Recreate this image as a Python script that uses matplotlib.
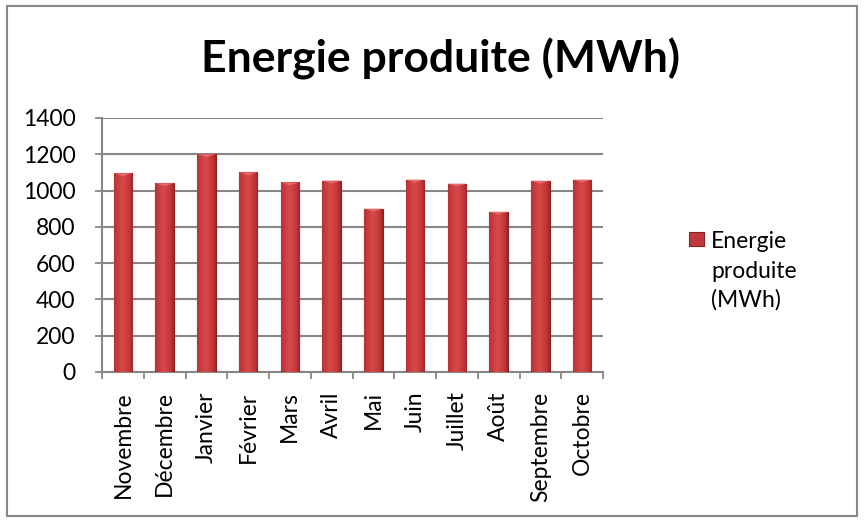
import matplotlib
matplotlib.use("Agg")
import matplotlib.pyplot as plt
import numpy as np
from matplotlib.patches import Rectangle

months = ["Novembre", "Décembre", "Janvier", "Février", "Mars", "Avril",
          "Mai", "Juin", "Juillet", "Août", "Septembre", "Octobre"]
energy = [1095, 1040, 1200, 1100, 1045, 1055, 900, 1060, 1038, 883, 1054, 1060]
series_name = "Energie produite (MWh)"
legend_label = "Energie\nproduite\n(MWh)"
yticks = [0, 200, 400, 600, 800, 1000, 1200, 1400]

plt.rcParams['font.family'] = ['Lato', 'DejaVu Sans']

W, H = 864, 522
fig = plt.figure(figsize=(W / 100, H / 100), dpi=100)
ax = fig.add_axes([102/W, 1 - 372/H, 501/W, 254/H])

grey = '#878787'
x = np.arange(len(months))
bars = ax.bar(x, energy, width=0.44, color='#C0383A', edgecolor='#8E1F20',
              linewidth=0.8, zorder=3)

# horizontal gradient to mimic shaded bars
grad = np.linspace(0, 1, 64)
prof = 1 - np.abs(grad - 0.45) ** 1.3 * 1.6
cmap = matplotlib.colors.LinearSegmentedColormap.from_list(
    "r", ["#7A1517", "#BE3335", "#D6484A"])
for b in bars:
    x0, y0 = b.get_x(), b.get_y()
    w, h = b.get_width(), b.get_height()
    im = ax.imshow(prof[np.newaxis, :], extent=(x0, x0 + w, y0, y0 + h),
                   aspect='auto', cmap=cmap, vmin=0, vmax=1, zorder=3.5,
                   interpolation='bilinear')
    im.set_clip_path(b)
    tri = plt.Polygon([[x0, y0 + h], [x0 + w, y0 + h], [x0 + w / 2, y0 + h - 16]],
                      closed=True, color='#E26A6C', zorder=4, lw=0)
    ax.add_patch(tri)

ax.set_xlim(-0.5, len(months) - 0.5)
ax.set_ylim(0, 1400)
ax.set_yticks(yticks)
ax.set_yticklabels([str(v) for v in yticks], fontsize=16.5)
ax.set_xticks(x)
ax.set_xticklabels(months, rotation=90, fontsize=16.5)
ax.set_xticks(np.arange(-0.5, len(months)), minor=True)
ax.tick_params(axis='x', which='major', length=0, pad=14)
ax.tick_params(axis='x', which='minor', length=5, color=grey, width=1.3)
ax.tick_params(axis='y', which='major', length=5, color=grey, width=1.3, pad=14)
ax.grid(axis='y', color=grey, linewidth=1.5, zorder=0)
ax.set_axisbelow(True)
for s in ['top', 'right']:
    ax.spines[s].set_visible(False)
for s in ['left', 'bottom']:
    ax.spines[s].set_color(grey)
    ax.spines[s].set_linewidth(1.5)

fig.text(441/W, 1 - 72/H, series_name, ha='center', va='baseline',
         fontsize=32, fontweight='bold')

# legend
fig.patches.append(Rectangle((689/W, 1 - 246/H), 15/W, 14/H,
                             transform=fig.transFigure, facecolor='#C0383A',
                             edgecolor='#8E1F20', lw=0.8))
fig.text(711/W, 1 - 248/H, legend_label.split("\n")[0], ha='left',
         va='baseline', fontsize=16.5)
for i, line in enumerate(legend_label.split("\n")[1:], start=1):
    fig.text(711/W, 1 - (248 + 29.5 * i)/H, line, ha='left', va='baseline',
             fontsize=16.5)

# outer border
fig.patches.append(Rectangle((7/W, 6/H), (W - 14)/W, (H - 12)/H,
                             transform=fig.transFigure, fill=False,
                             edgecolor=grey, lw=1.5))

fig.savefig("out.png", dpi=100)
